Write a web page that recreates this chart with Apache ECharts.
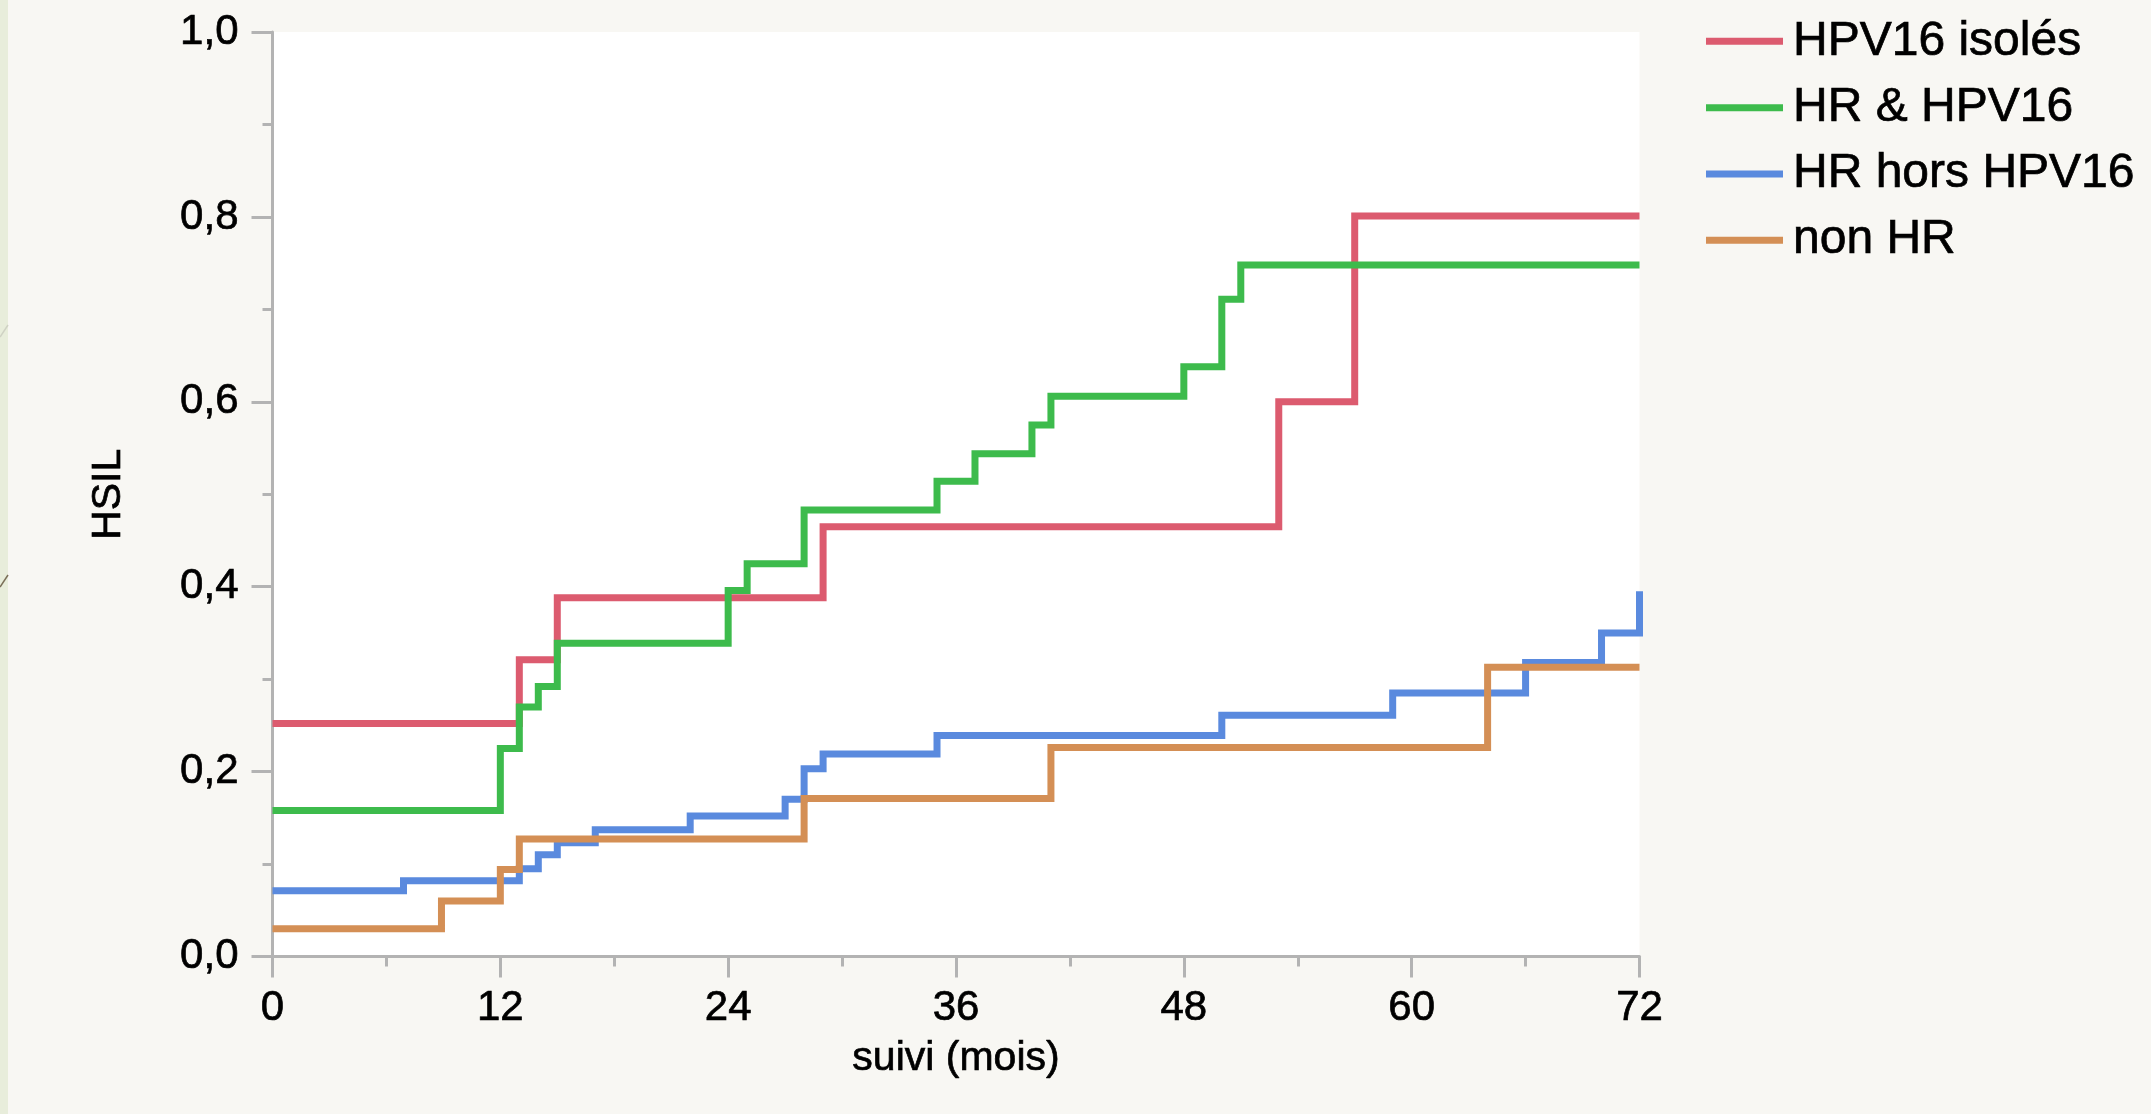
<!DOCTYPE html>
<html>
<head>
<meta charset="utf-8">
<script src="https://cdn.jsdelivr.net/npm/echarts@6/dist/echarts.min.js"></script>
<style>
  html, body { margin: 0; padding: 0; background: #f8f7f3; }
  #chart { width: 2151px; height: 1114px; }
</style>
</head>
<body>
<div id="chart"></div>
<script>
// Cumulative incidence of HSIL by HPV group, [month, proportion] step points
const hpv16Isoles = [[0, 0.252], [13, 0.321], [15, 0.388], [29, 0.465], [53, 0.600], [57, 0.801], [72, 0.801]];
const hrEtHpv16 = [[0, 0.158], [12, 0.225], [13, 0.270], [14, 0.292], [15, 0.339], [24, 0.396], [25, 0.425],
                   [28, 0.483], [35, 0.514], [37, 0.544], [40, 0.575], [41, 0.606], [48, 0.638], [50, 0.711],
                   [51, 0.748], [72, 0.748]];
const hrHorsHpv16 = [[0, 0.071], [6.9, 0.082], [13, 0.095], [14, 0.110], [15, 0.123], [17, 0.137], [22, 0.152],
                     [27, 0.170], [28, 0.203], [29, 0.219], [35, 0.239], [50, 0.261], [59, 0.285], [66, 0.318],
                     [70, 0.350], [72, 0.395]];
const nonHr = [[0, 0.030], [8.9, 0.060], [12, 0.094], [13, 0.127], [28, 0.171], [41, 0.226], [64, 0.313], [72, 0.313]];

const seriesNames = ['HPV16 isolés', 'HR & HPV16', 'HR hors HPV16', 'non HR'];
const seriesData = [hpv16Isoles, hrEtHpv16, hrHorsHpv16, nonHr];
const seriesColors = ['#dc5b6f', '#3dbb4c', '#5a8ade', '#d48f55'];

// Axis settings
const xTickInterval = 12;   // months
const yTickInterval = 0.2;
const xTitle = 'suivi (mois)';
const yTitle = 'HSIL';

const FONT = "'Liberation Sans', Arial, Helvetica, sans-serif";
const AXIS_GREY = '#b3b3b3';

// Slightly heavier glyphs for all chart text
const textWeight = { color: '#000', textBorderColor: '#000', textBorderWidth: 0.7 };

const chart = echarts.init(document.getElementById('chart'), null, { renderer: 'canvas' });

const axisCommon = {
  axisLine: { show: true, onZero: false, lineStyle: { color: AXIS_GREY, width: 3 } },
  axisTick: { show: true, length: 21, lineStyle: { color: AXIS_GREY, width: 3 } },
  minorTick: { show: true, splitNumber: 2, length: 10, lineStyle: { color: AXIS_GREY, width: 3 } },
  splitLine: { show: false },
  minorSplitLine: { show: false }
};

chart.setOption({
  animation: false,
  backgroundColor: '#f8f7f3',
  textStyle: { fontFamily: FONT },
  graphic: [
    { type: 'rect', left: 0, top: 0, shape: { x: 0, y: 0, width: 8, height: 1114 },
      style: { fill: '#e8eddb' }, silent: true },
    { type: 'line', shape: { x1: 0, y1: 337, x2: 8, y2: 325 },
      style: { stroke: '#cfd2c4', lineWidth: 1.5 }, silent: true },
    { type: 'line', shape: { x1: 0, y1: 587, x2: 8, y2: 575 },
      style: { stroke: '#7a6f58', lineWidth: 1.5 }, silent: true }
  ],
  grid: {
    left: 272.5, right: 511.5, top: 32.1, bottom: 157.5,
    show: true, backgroundColor: '#ffffff', borderWidth: 0,
    containLabel: false
  },
  legend: {
    orient: 'vertical',
    left: 1701,
    top: 12,
    selectedMode: false,
    icon: 'rect',
    itemWidth: 77,
    itemHeight: 7,
    itemGap: 17.6,
    data: seriesNames,
    textStyle: Object.assign({ fontFamily: FONT, fontSize: 48, lineHeight: 48, padding: [0, 0, 0, 5] }, textWeight)
  },
  xAxis: Object.assign({}, axisCommon, {
    type: 'value',
    min: 0, max: 72, interval: xTickInterval,
    name: xTitle,
    nameLocation: 'middle',
    nameGap: 82,
    nameTextStyle: Object.assign({ fontFamily: FONT, fontSize: 41, lineHeight: 41 }, textWeight),
    axisLabel: Object.assign({ fontFamily: FONT, fontSize: 42, lineHeight: 42, margin: 31 }, textWeight)
  }),
  yAxis: Object.assign({}, axisCommon, {
    type: 'value',
    min: 0, max: 1, interval: yTickInterval,
    name: yTitle,
    nameLocation: 'middle',
    nameGap: 143,
    nameTextStyle: Object.assign({ fontFamily: FONT, fontSize: 41, lineHeight: 41 }, textWeight),
    axisLabel: Object.assign({
      fontFamily: FONT, fontSize: 42, margin: 34,
      formatter: v => v.toFixed(1).replace('.', ',')
    }, textWeight)
  }),
  series: seriesNames.map((name, i) => ({
    name,
    type: 'line',
    step: 'end',
    data: seriesData[i],
    showSymbol: false,
    symbol: 'none',
    clip: false,
    color: seriesColors[i],
    lineStyle: { color: seriesColors[i], width: 7, join: 'miter', cap: 'butt' },
    emphasis: { disabled: true },
    z: 2 + i
  }))
});
</script>
</body>
</html>
